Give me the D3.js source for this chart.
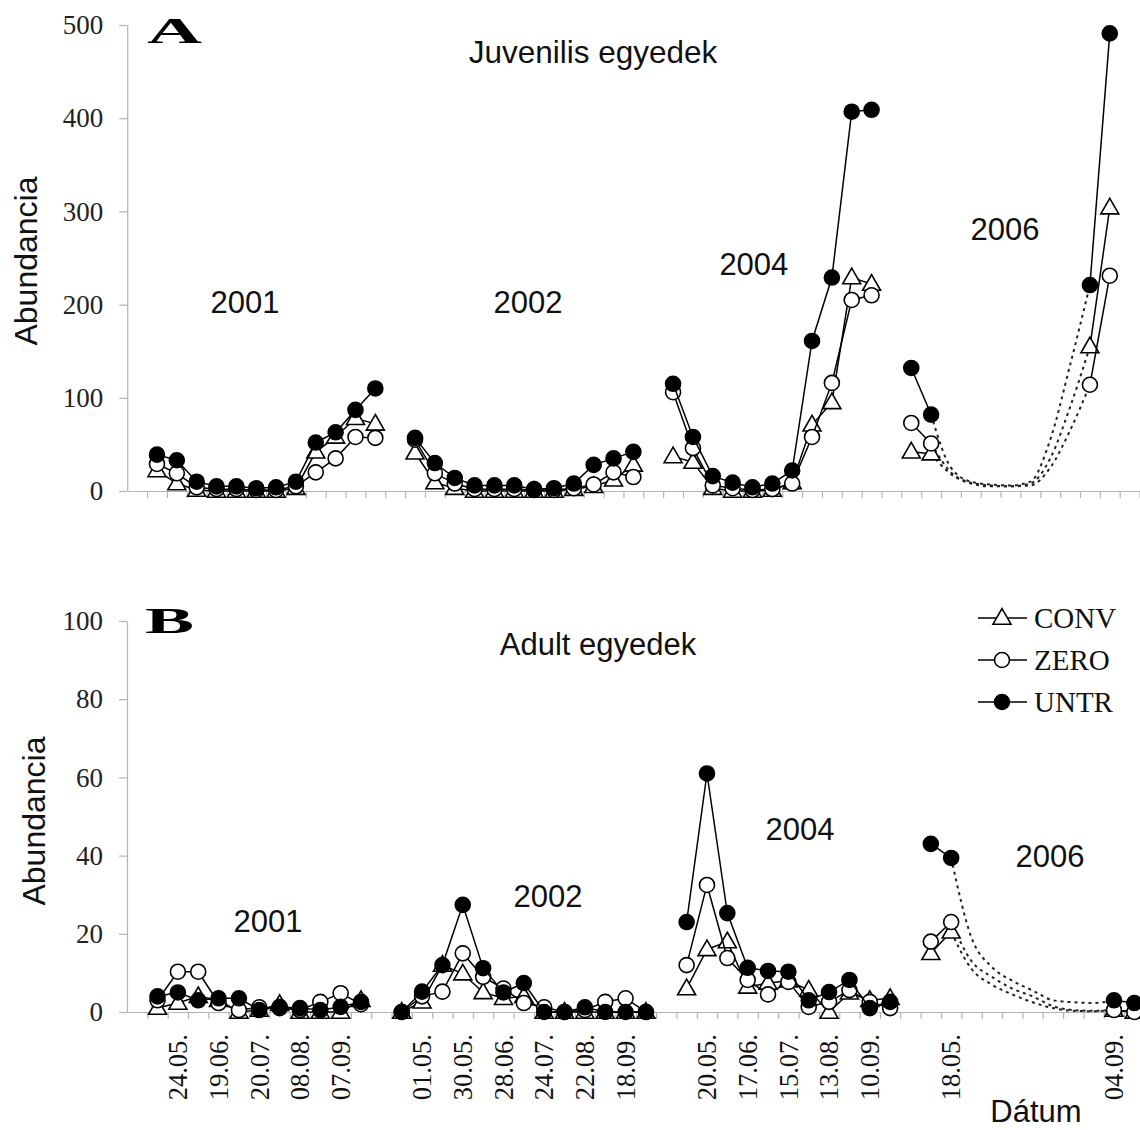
<!DOCTYPE html>
<html>
<head>
<meta charset="utf-8">
<script src="https://cdn.jsdelivr.net/npm/d3@7"></script>
<style>
  body { margin: 0; background: #fff; }
  svg { display: block; }
</style>
</head>
<body>
<svg id="chart" width="1140" height="1130"></svg>
<script>
// ---------------------------------------------------------------
// Data: abundance per sampling slot along a shared category axis.
// null = empty slot (gap between years, or no sample).
// ---------------------------------------------------------------
const seriesNames = ["CONV", "ZERO", "UNTR"];
const yearNames = ["2001", "2002", "2004", "2006"];

// A – juveniles (51 slots)
const juvConv = [
  null,
  22, 8, 1, 0, 0, 0, 0, 3, 42, 58, 78, 72,
  null,
  41, 9, 3, 0, 0, 0, 0, 0, 2, 5, 12, 28,
  null,
  37, 31, 3, 0, 0, 1, 9, 71, 95, 229, 222,
  null,
  42, 40,
  null, null, null, null, null, null, null,
  155, 304,
  null
];
const juvZero = [
  null,
  29, 19, 4, 2, 2, 1, 1, 5, 20, 35, 58, 57,
  null,
  55, 19, 8, 2, 2, 2, 1, 1, 3, 7, 20, 15,
  null,
  106, 46, 6, 3, 1, 2, 8, 58, 116, 205, 210,
  null,
  73, 51,
  null, null, null, null, null, null, null,
  114, 231,
  null
];
const juvUntr = [
  null,
  39, 33, 10, 5, 5, 3, 4, 10, 52, 63, 87, 110,
  null,
  57, 30, 14, 6, 6, 6, 2, 3, 8, 28, 35, 42,
  null,
  115, 58, 16, 9, 4, 8, 22, 161, 229, 407, 409,
  null,
  132, 82,
  null, null, null, null, null, null, null,
  221, 491,
  null
];
// dotted course across the unsampled summer of 2006 (slots 40–48)
const juvBridgeStart = 40;
const juvConvBridge = [40, 18, 8, 5, 5, 8, 35, 90, 155];
const juvZeroBridge = [51, 20, 9, 6, 5, 6, 25, 65, 114];
const juvUntrBridge = [82, 25, 10, 7, 6, 10, 55, 135, 221];
const juvTicks = [0, 100, 200, 300, 400, 500];

// B – adults (50 slots)
const adultConv = [
  null,
  1, 2.3, 4, 3, 0, 0.5, 2, 0, 0, 0, 3,
  null,
  0, 2.6, 12, 9.8, 5, 3.5, 4, 0, 0, 0, 0, 0, 0,
  null,
  6, 16, 18, 6.4, 7.4, 8, 5.6, 0, 4.9, 3, 3.5,
  null,
  15, 20.5,
  null, null, null, null, null, null, null,
  0.5, 0
];
const adultZero = [
  null,
  3, 10.3, 10.3, 2.3, 0.5, 1.2, 1, 0.5, 2.6, 4.8, 2,
  null,
  0, 4, 5.2, 15, 9, 6, 2.3, 1.2, 0, 0.5, 2.6, 3.5, 0,
  null,
  12, 32.5, 13.8, 8.2, 4.5, 7.7, 1.3, 2.6, 5.6, 2.6, 1,
  null,
  18, 23,
  null, null, null, null, null, null, null,
  0.5, 0
];
const adultUntr = [
  null,
  4, 5, 3, 3.5, 3.5, 0.5, 1.3, 1, 0.5, 1.3, 2.6,
  null,
  0, 5.2, 12, 27.4, 11.2, 5, 7.4, 0, 0, 1.2, 0, 0, 0,
  null,
  23, 61, 25.3, 11.3, 10.5, 10.3, 3, 5.1, 8.2, 1, 2.6,
  null,
  43, 39.4,
  null, null, null, null, null, null, null,
  3, 2.3
];
const adultBridgeStart = 40;
const adultConvBridge = [20.5, 11, 7, 4.5, 2.5, 1, 0.3, 0.2, 0.5];
const adultZeroBridge = [23, 13, 9, 6, 4, 1.5, 0.5, 0.3, 0.5];
const adultUntrBridge = [39.4, 19, 11.5, 8, 5.5, 3, 2.5, 2.3, 3];
const adultTicks = [0, 20, 40, 60, 80, 100];

// sampling dates shown under the adult panel (every second slot)
const adultDateLabels = [
  "", "", "24.05.", "", "19.06.", "", "20.07.", "", "08.08.", "", "07.09.", "",
  "", "", "01.05.", "", "30.05.", "", "28.06.", "", "24.07.", "", "22.08.", "", "18.09.", "",
  "", "", "20.05.", "", "17.06.", "", "15.07.", "", "13.08.", "", "10.09.", "",
  "", "", "18.05.", "", "", "", "", "", "", "", "04.09.", ""
];

// ---------------------------------------------------------------
// Layout and drawing
// ---------------------------------------------------------------
const SANS = "'Liberation Sans', Arial, sans-serif";
const SERIF = "'Liberation Serif', 'Times New Roman', serif";
const AXIS_GREY = "#b4b4b4";
const INK = "#111";

const markerStyle = {
  CONV: { shape: "triangle", fill: "#fff" },
  ZERO: { shape: "circle", fill: "#fff" },
  UNTR: { shape: "circle", fill: "#000" }
};

const panels = [
  {
    series: [juvConv, juvZero, juvUntr],
    bridges: [juvConvBridge, juvZeroBridge, juvUntrBridge],
    bridgeStart: juvBridgeStart,
    xLeft: 127.2, slotW: 19.85,
    yZero: 491, yTop: 25, yMax: 500, ticks: juvTicks,
    title: "Juvenilis egyedek", titleX: 593, titleY: 63, titleSize: 31.5,
    letter: "A", letterX: 147, letterY: 43, letterW: 55,
    yLabelCenter: 261, yLabelX: 25,
    years: [[5.93, 191], [20.19, 191], [31.57, 232], [44.22, 269]],
    dateLabels: null, legend: false
  },
  {
    series: [adultConv, adultZero, adultUntr],
    bridges: [adultConvBridge, adultZeroBridge, adultUntrBridge],
    bridgeStart: adultBridgeStart,
    xLeft: 127, slotW: 20.35,
    yZero: 1012, yTop: 621, yMax: 100, ticks: adultTicks,
    title: "Adult egyedek", titleX: 598, titleY: 655, titleSize: 31,
    letter: "B", letterX: 145, letterY: 633, letterW: 49,
    yLabelCenter: 821, yLabelX: 33,
    years: [[6.93, 20.5], [20.69, 26.9], [33.07, 44], [45.36, 37.1]],
    dateLabels: adultDateLabels, legend: true
  }
];

const svg = d3.select("#chart");

function addMarker(sel, name, cx, cy) {
  const st = markerStyle[name];
  if (st.shape === "circle") {
    sel.append("circle")
      .attr("cx", cx).attr("cy", cy).attr("r", 7.5)
      .attr("fill", st.fill).attr("stroke", "#000").attr("stroke-width", 1.6);
  } else {
    sel.append("path")
      .attr("d", d3.symbol(d3.symbolTriangle, 140)())
      .attr("transform", `translate(${cx},${cy + 1})`)
      .attr("fill", st.fill).attr("stroke", "#000").attr("stroke-width", 1.6);
  }
}

function drawPanel(p) {
  const nSlots = p.series[0].length;
  const x = d3.scaleLinear().domain([0, nSlots]).range([p.xLeft, p.xLeft + p.slotW * nSlots]);
  const y = d3.scaleLinear().domain([0, p.yMax]).range([p.yZero, p.yTop]);
  const g = svg.append("g");

  // y axis
  const yAxis = g.append("g")
    .attr("transform", `translate(${p.xLeft},0)`)
    .call(d3.axisLeft(y).tickValues(p.ticks).tickSize(8).tickSizeOuter(0).tickPadding(16));
  yAxis.select(".domain").attr("stroke", AXIS_GREY).attr("stroke-width", 1.2);
  yAxis.selectAll(".tick line").attr("stroke", AXIS_GREY).attr("stroke-width", 1.2);
  yAxis.selectAll(".tick text")
    .attr("font-family", SERIF).attr("font-size", 27).attr("fill", "#222");

  // x axis (category boundaries)
  const xAxis = g.append("g")
    .attr("transform", `translate(0,${p.yZero})`)
    .call(d3.axisBottom(x).tickValues(d3.range(1, nSlots + 1)).tickSize(7).tickSizeOuter(0).tickFormat(""));
  xAxis.select(".domain").attr("stroke", AXIS_GREY).attr("stroke-width", 1.2);
  xAxis.selectAll(".tick line").attr("stroke", AXIS_GREY).attr("stroke-width", 1.2);

  // date labels, vertical
  if (p.dateLabels) {
    g.append("g").selectAll("text")
      .data(p.dateLabels.map((t, i) => ({ t, i })).filter(d => d.t !== ""))
      .join("text")
      .attr("transform", d => `translate(${x(d.i + 0.5)},${p.yZero + 22}) rotate(-90)`)
      .attr("text-anchor", "end")
      .attr("dy", "0.35em")
      .attr("font-family", SERIF).attr("font-size", 26.5).attr("fill", INK)
      .text(d => d.t);
  }

  // y axis title
  g.append("text")
    .attr("transform", `translate(${p.yLabelX},${p.yLabelCenter}) rotate(-90)`)
    .attr("text-anchor", "middle").attr("dy", "0.36em")
    .attr("font-family", SANS).attr("font-size", 32).attr("fill", INK)
    .text("Abundancia");

  // panel letter and title
  g.append("text")
    .attr("x", p.letterX).attr("y", p.letterY)
    .attr("font-family", SERIF).attr("font-weight", "bold").attr("font-size", 36)
    .attr("textLength", p.letterW).attr("lengthAdjust", "spacingAndGlyphs")
    .attr("fill", "#000")
    .text(p.letter);
  g.append("text")
    .attr("x", p.titleX).attr("y", p.titleY).attr("text-anchor", "middle")
    .attr("font-family", SANS).attr("font-size", p.titleSize).attr("fill", INK)
    .text(p.title);

  // year annotations
  g.append("g").selectAll("text")
    .data(yearNames.map((t, k) => ({ t, pos: p.years[k] })))
    .join("text")
    .attr("x", d => x(d.pos[0])).attr("y", d => y(d.pos[1]))
    .attr("text-anchor", "middle")
    .attr("font-family", SANS).attr("font-size", 31).attr("fill", INK)
    .text(d => d.t);

  // dotted bridges across the 2006 gap
  const bridgeLine = d3.line()
    .x(d => x(d.i + 0.5)).y(d => y(d.v))
    .curve(d3.curveMonotoneX);
  p.bridges.forEach(b => {
    g.append("path")
      .attr("d", bridgeLine(b.map((v, k) => ({ i: p.bridgeStart + k, v }))))
      .attr("fill", "none").attr("stroke", "#222").attr("stroke-width", 2)
      .attr("stroke-dasharray", "3,4");
  });

  // series lines and markers
  const line = d3.line()
    .defined(d => d.v !== null)
    .x(d => x(d.i + 0.5)).y(d => y(d.v));
  p.series.forEach((vals, s) => {
    const name = seriesNames[s];
    const pts = vals.map((v, i) => ({ i, v }));
    g.append("path")
      .attr("d", line(pts))
      .attr("fill", "none").attr("stroke", "#000").attr("stroke-width", 1.5);
    const mg = g.append("g");
    pts.filter(d => d.v !== null).forEach(d => addMarker(mg, name, x(d.i + 0.5), y(d.v)));
  });

  // legend
  if (p.legend) {
    const lg = g.append("g");
    seriesNames.forEach((name, k) => {
      const cy = 618 + k * 42;
      lg.append("line").attr("x1", 978).attr("x2", 1027).attr("y1", cy).attr("y2", cy)
        .attr("stroke", "#000").attr("stroke-width", 1.5);
      addMarker(lg, name, 1002, cy);
      lg.append("text").attr("x", 1034).attr("y", cy + 10)
        .attr("font-family", SERIF).attr("font-size", 29).attr("fill", INK)
        .text(name);
    });
  }
}

panels.forEach(drawPanel);

// shared x axis title
svg.append("text")
  .attr("x", 1036).attr("y", 1122).attr("text-anchor", "middle")
  .attr("font-family", SANS).attr("font-size", 31).attr("fill", INK)
  .text("Dátum");
</script>
</body>
</html>
